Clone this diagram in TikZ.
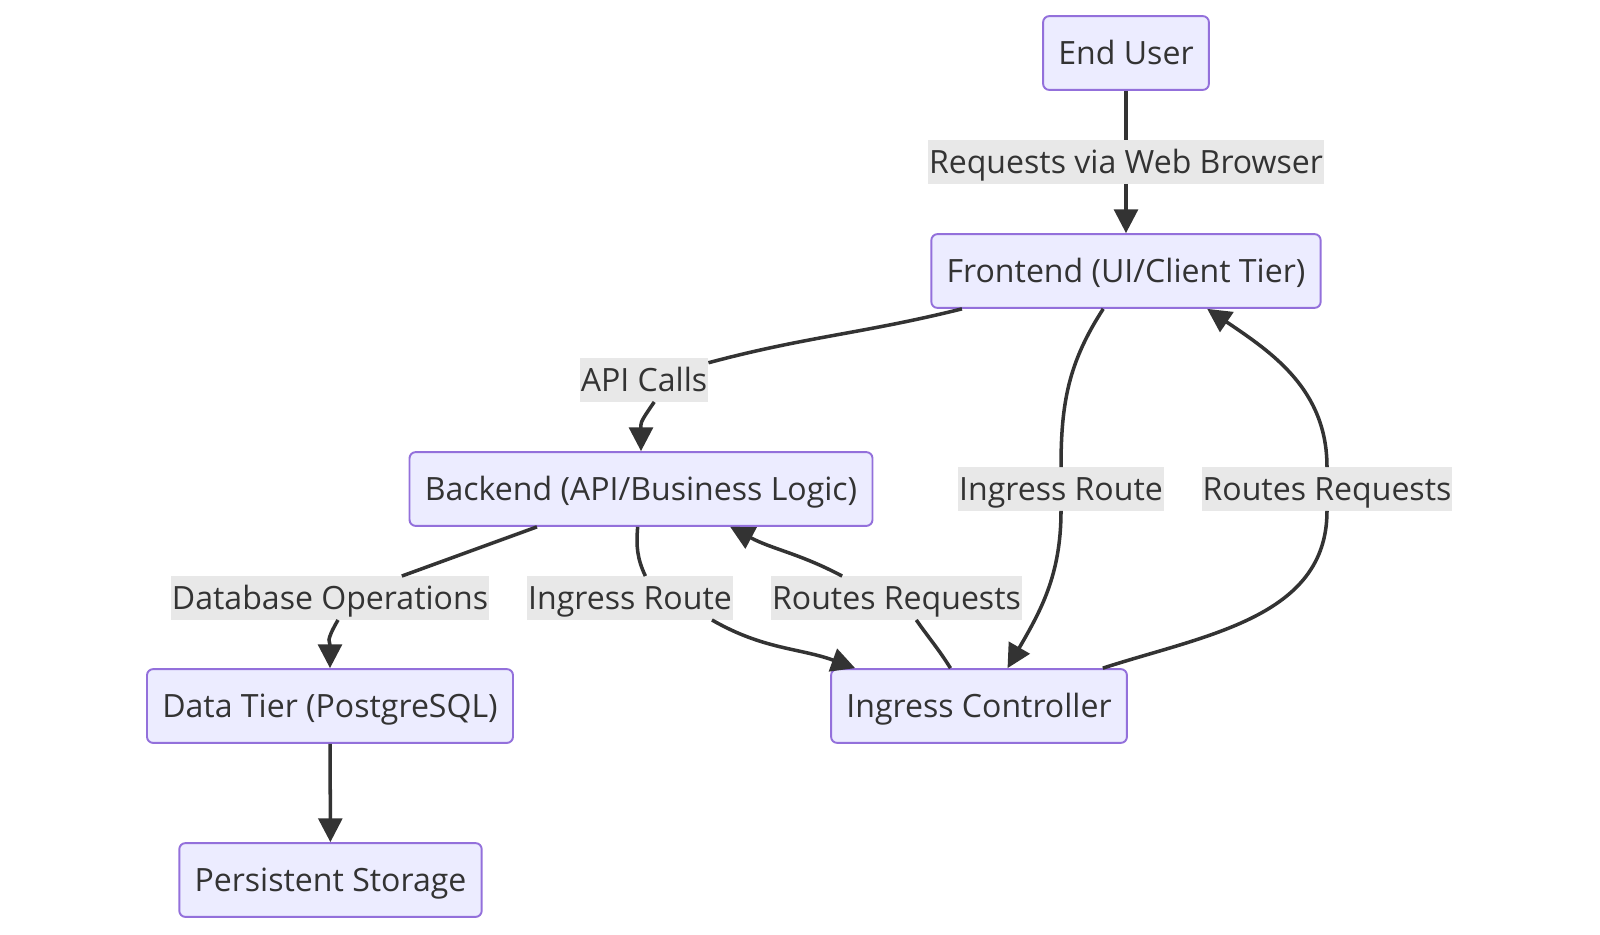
\documentclass[tikz,border=0pt]{standalone}
\usepackage{fontspec}
\setmainfont{Open Sans}
\usetikzlibrary{arrows.meta}
\definecolor{boxfill}{HTML}{ECECFF}
\definecolor{boxline}{HTML}{9370DB}
\definecolor{ink}{HTML}{333333}
\definecolor{lblfill}{HTML}{E8E8E8}

\begin{document}
\begin{tikzpicture}[x=0.02cm, y=0.02cm,
    box/.style={draw=boxline, fill=boxfill, line width=1.1pt, rounded corners=3.5pt,
        minimum height=42pt, inner xsep=8.7pt, text height=12.9pt, text depth=0pt,
        text=ink, font=\fontsize{18.25}{22}\selectfont},
    lbl/.style={fill=lblfill, inner xsep=0.5pt, inner ysep=0pt, minimum height=24.6pt,
        text height=12.9pt, text depth=0pt, text=ink, font=\fontsize{18.25}{22}\selectfont},
    edge/.style={draw=ink, line width=2pt},
    arr/.style={edge, -{Triangle[length=13.5pt, width=13.5pt]}}]
\useasboundingbox (0,0) rectangle (1600,-934);

% tiers
\node[box] (user) at (1126,-53) {End User};
\node[box] (fe) at (1126,-271) {Frontend (UI/Client Tier)};
\node[box] (be) at (641,-489) {Backend (API/Business Logic)};
\node[box] (db) at (330,-706) {Data Tier (PostgreSQL)};
\node[box] (ic) at (979,-706) {Ingress Controller};
\node[box] (ps) at (330.5,-880) {Persistent Storage};

% edge labels
\node[lbl] (reql) at (1126,-162) {Requests via Web Browser};
\node[lbl] (apil) at (644,-380) {API Calls};
\node[lbl] (dbl) at (330,-598) {Database Operations};
\node[lbl] (irl) at (630,-598) {Ingress Route};
\node[lbl] (rrl) at (896.5,-598) {Routes Requests};
\node[lbl] (irr) at (1061,-489) {Ingress Route};
\node[lbl] (rrr) at (1327,-489) {Routes Requests};

\draw[edge] (user) -- (reql);
\draw[arr] (reql) -- (fe);

\draw[edge] (fe.193) to[out=194, in=15] (apil);
\draw[arr] (apil.-65) to[out=235, in=90, looseness=1.4] (be.north);

\draw[edge] (be.200) to[out=200, in=20] (dbl.17);
\draw[arr] (dbl.-70) to[out=240, in=90, looseness=1.4] (db.north);

\draw[edge] (be.265) to[out=265, in=115] (irl.55);
\draw[arr] (irl.-15) to[out=-30, in=160] (ic.163);

\draw[edge] (ic.127) to[out=122, in=-55] (rrl.-48);
\draw[arr] (rrl.158) to[out=152, in=-28] (be.-23);

\draw[edge] (fe.239) to[out=237, in=90] (irr.north);
\draw[arr] (irr.south) to[out=-90, in=60] (ic.53);

\draw[edge] (ic.17) to[out=18, in=-90] (rrr.south);
\draw[arr] (rrr.north) to[out=90, in=-34] (fe.-25);

\draw[arr] (db) -- (ps);
\end{tikzpicture}
\end{document}
